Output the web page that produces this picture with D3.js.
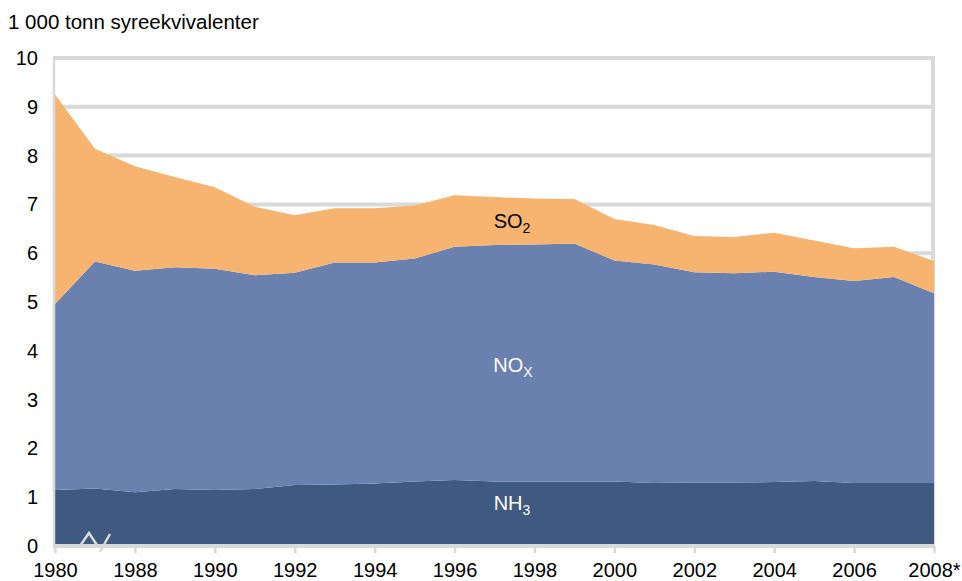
<!DOCTYPE html>
<html><head><meta charset="utf-8">
<script src="https://cdn.jsdelivr.net/npm/d3@7"></script>
<style>
body{margin:0;background:#fff;}
svg{display:block;font-family:"Liberation Sans",Arial,sans-serif;}
</style></head>
<body><svg id="c" width="962" height="581"></svg>
<script>
const years = ["1980","1987","1988","1989","1990","1991","1992","1993","1994","1995","1996","1997","1998","1999","2000","2001","2002","2003","2004","2005","2006","2007","2008*"];
const nh3 = [1.15,1.18,1.10,1.17,1.15,1.17,1.25,1.26,1.28,1.32,1.35,1.32,1.32,1.32,1.32,1.29,1.30,1.30,1.31,1.33,1.29,1.29,1.29];
const nox = [3.81,4.65,4.54,4.54,4.53,4.38,4.35,4.55,4.53,4.57,4.78,4.85,4.86,4.88,4.53,4.48,4.31,4.29,4.31,4.18,4.14,4.22,3.89];
const so2 = [4.29,2.31,2.14,1.85,1.67,1.40,1.18,1.11,1.11,1.09,1.06,0.98,0.94,0.91,0.85,0.81,0.74,0.74,0.80,0.75,0.67,0.62,0.66];
const xTickLabels = ["1980","1988","1990","1992","1994","1996","1998","2000","2002","2004","2006","2008*"];
const yTicks = [0,1,2,3,4,5,6,7,8,9,10];
const seriesKeys = ["NH3","NOx","SO2"];
const colors = {NH3:"#3f5981", NOx:"#6a81b0", SO2:"#f7b470"};
const unitLabel = "1 000 tonn syreekvivalenter";

const svg = d3.select("#c");
const L=55, R=934, T=58, B=546;
const x = d3.scalePoint().domain(years).range([L,R]);
const y = d3.scaleLinear().domain([0,10]).range([B,T]);
const grid = "#d9d9d9";
const FONT = "Liberation Sans, Arial, sans-serif";

const rows = years.map((yr,i)=>({year:yr, NH3:nh3[i], NOx:nox[i], SO2:so2[i]}));
const stacked = d3.stack().keys(seriesKeys)(rows);

// gridlines
svg.append("g").selectAll("line").data(yTicks.filter(d=>d>0)).join("line")
  .attr("x1",L).attr("x2",R).attr("y1",d=>y(d)).attr("y2",d=>y(d))
  .attr("stroke",grid).attr("stroke-width",4);
// right border
svg.append("line").attr("x1",R-1).attr("x2",R-1).attr("y1",T-2).attr("y2",B)
  .attr("stroke",grid).attr("stroke-width",4);

// areas
const area = d3.area().x(d=>x(d.data.year)).y0(d=>y(d[0])).y1(d=>y(d[1]));
svg.append("g").selectAll("path").data(stacked).join("path")
  .attr("d",area).attr("fill",d=>colors[d.key]);

// left axis line
svg.append("line").attr("x1",L-1).attr("x2",L-1).attr("y1",T-2).attr("y2",B)
  .attr("stroke",grid).attr("stroke-width",2.5);

// y axis
const yAxis = svg.append("g").attr("transform",`translate(${L},0)`)
  .call(d3.axisLeft(y).tickValues(yTicks).tickSize(0).tickPadding(17).tickFormat(d3.format("d")));
yAxis.select(".domain").remove();
yAxis.selectAll("text").attr("font-size",20).attr("fill","#000").attr("font-family",FONT);

// x axis
const xAxis = svg.append("g").attr("transform",`translate(0,${B})`)
  .call(d3.axisBottom(x).tickValues(years.filter(d=>xTickLabels.includes(d))).tickSize(7).tickPadding(10));
xAxis.select(".domain").remove();
xAxis.selectAll(".tick line").attr("stroke",grid).attr("stroke-width",2.5);
xAxis.selectAll("text").attr("font-size",20).attr("fill","#000").attr("font-family",FONT);
svg.append("line").attr("x1",L-2).attr("x2",R+1).attr("y1",B).attr("y2",B)
  .attr("stroke",grid).attr("stroke-width",4);

// axis break marker
const bx = x(years[1]);
svg.append("path")
  .attr("d",`M${bx-15},${B} L${bx-6},${B-13} L${bx+2},${B-1} M${bx+5},${B+6} L${bx+15},${B-12}`)
  .attr("fill","none").attr("stroke",grid).attr("stroke-width",2.5);

// unit label
svg.append("text").attr("x",8).attr("y",29).attr("font-size",20.5).attr("fill","#000")
  .attr("font-family",FONT).text(unitLabel);

// series labels
function label(px,py,main,sub,fill){
  const t = svg.append("text").attr("x",px).attr("y",py).attr("font-size",20).attr("fill",fill)
    .attr("text-anchor","middle").attr("font-family",FONT);
  t.append("tspan").text(main);
  t.append("tspan").attr("font-size",14).attr("dy",5).text(sub);
}
label(512,228,"SO","2","#000");
label(513,372,"NO","X","#fff");
label(512,510,"NH","3","#fff");
</script>
</body></html>
